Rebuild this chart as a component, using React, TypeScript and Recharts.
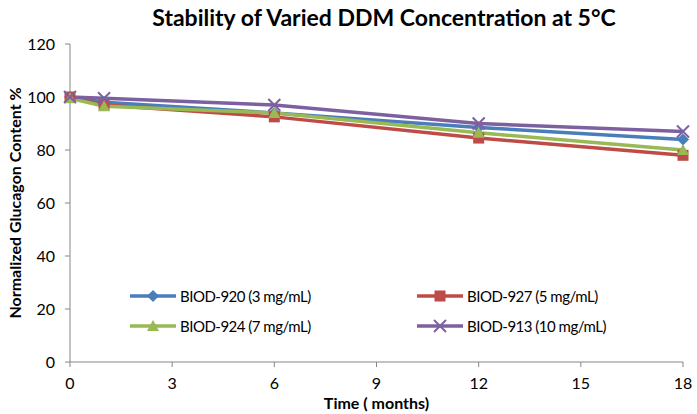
import React from "react";
import { LineChart, Line, XAxis, YAxis } from "recharts";

const months = [0, 1, 6, 12, 18];
const biod920 = [100, 98, 94, 88.5, 84];
const biod927 = [100, 97, 92.5, 84.5, 78];
const biod924 = [99.5, 96.5, 94, 86.5, 80];
const biod913 = [100, 99.5, 97, 90, 87];
const xTicks = [0, 3, 6, 9, 12, 15, 18];
const yTicks = [0, 20, 40, 60, 80, 100, 120];

const data = months.map((m, i) => ({
  month: m,
  b920: biod920[i],
  b927: biod927[i],
  b924: biod924[i],
  b913: biod913[i],
}));

const FONT = "Lato, 'Open Sans', sans-serif";

const series = [
  { key: "b920", name: "BIOD-920 (3 mg/mL)", color: "#4A7EBB", shape: "diamond" },
  { key: "b927", name: "BIOD-927 (5 mg/mL)", color: "#BE4B48", shape: "square" },
  { key: "b924", name: "BIOD-924 (7 mg/mL)", color: "#98B954", shape: "triangle" },
  { key: "b913", name: "BIOD-913 (10 mg/mL)", color: "#7D60A0", shape: "x" },
];

function Marker({ cx, cy, shape, color }: any) {
  if (cx == null || cy == null) return null;
  if (shape === "diamond") {
    return <polygon points={`${cx},${cy - 6} ${cx + 6},${cy} ${cx},${cy + 6} ${cx - 6},${cy}`} fill={color} />;
  }
  if (shape === "square") {
    return <rect x={cx - 5.5} y={cy - 5.5} width={11} height={11} fill={color} />;
  }
  if (shape === "triangle") {
    return <polygon points={`${cx},${cy - 6} ${cx + 6},${cy + 5} ${cx - 6},${cy + 5}`} fill={color} />;
  }
  return (
    <g stroke={color} strokeWidth={2}>
      <line x1={cx - 6} y1={cy - 6} x2={cx + 6} y2={cy + 6} />
      <line x1={cx - 6} y1={cy + 6} x2={cx + 6} y2={cy - 6} />
    </g>
  );
}

// legend sits inside the plot area, drawn as an overlay so it doesn't shrink the plot
const LegendBox = () => (
  <div
    style={{
      position: "absolute",
      left: 128,
      top: 286,
      display: "grid",
      gridTemplateColumns: "287px 240px",
      rowGap: 10,
      fontFamily: FONT,
      fontSize: 15,
      letterSpacing: -0.5,
      color: "#000",
    }}
  >
    {series.map((s) => (
      <div key={s.key} style={{ display: "flex", alignItems: "center", height: 20 }}>
        <svg width={50} height={16}>
          <line x1={2} y1={8} x2={48} y2={8} stroke={s.color} strokeWidth={3.5} />
          <Marker cx={25} cy={8} shape={s.shape} color={s.color} />
        </svg>
        <span style={{ marginLeft: 2 }}>{s.name}</span>
      </div>
    ))}
  </div>
);

export default function App() {
  return (
    <div style={{ position: "fixed", left: 0, top: 0, width: 697, height: 414, background: "#fff" }}>
      <div
        style={{
          position: "absolute",
          top: 3,
          left: 0,
          width: 768,
          textAlign: "center",
          fontFamily: FONT,
          fontWeight: 700,
          fontSize: 23,
          color: "#000",
        }}
      >
        Stability of Varied DDM Concentration at 5°C
      </div>
      <LineChart width={697} height={414} data={data} margin={{ top: 44, right: 14, bottom: 0, left: 20 }}>
        <XAxis
          dataKey="month"
          type="number"
          domain={[0, 18]}
          ticks={xTicks}
          height={52}
          stroke="#868686"
          tickSize={5}
          tickMargin={11}
          tick={{ fill: "#000", fontSize: 16, fontFamily: FONT }}
          label={{
            value: "Time ( months)",
            position: "insideBottom",
            offset: 5,
            style: { fontFamily: FONT, fontWeight: 700, fontSize: 16, fill: "#000" },
          }}
        />
        <YAxis
          domain={[0, 120]}
          ticks={yTicks}
          width={50}
          stroke="#868686"
          tickSize={5}
          tickMargin={10}
          tick={{ fill: "#000", fontSize: 16, fontFamily: FONT }}
          label={{
            value: "Normalized Glucagon Content %",
            angle: -90,
            position: "insideLeft",
            offset: -5,
            style: { textAnchor: "middle", fontFamily: FONT, fontWeight: 700, fontSize: 16, fill: "#000" },
          }}
        />
        {series.map((s) => (
          <Line
            key={s.key}
            dataKey={s.key}
            name={s.name}
            stroke={s.color}
            strokeWidth={3.5}
            isAnimationActive={false}
            dot={(p: any) => <Marker key={`${s.key}-${p.index}`} cx={p.cx} cy={p.cy} shape={s.shape} color={s.color} />}
            activeDot={false}
          />
        ))}
      </LineChart>
      <LegendBox />
    </div>
  );
}
